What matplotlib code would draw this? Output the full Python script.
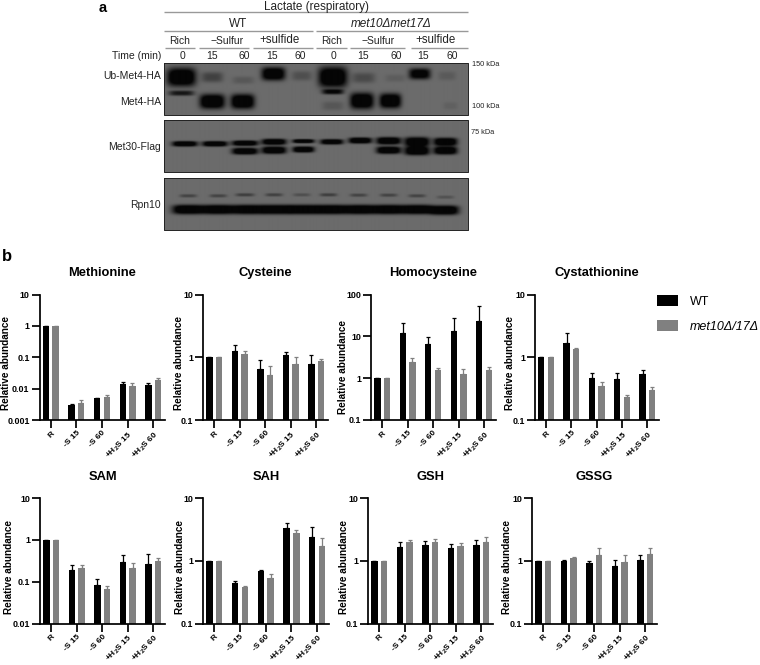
import numpy as np
import matplotlib
matplotlib.use("Agg")
import matplotlib.pyplot as plt
from matplotlib.patches import Patch

plt.rcParams['font.family'] = ['Liberation Sans', 'DejaVu Sans']
plt.rcParams['mathtext.fontset'] = 'custom'
plt.rcParams['mathtext.rm'] = 'Liberation Sans:bold'
plt.rcParams['mathtext.default'] = 'rm'

conditions = ['R', '-S 15', '-S 60', '+H$_2$S 15', '+H$_2$S 60']
metabolites = ['Methionine', 'Cysteine', 'Homocysteine', 'Cystathionine',
               'SAM', 'SAH', 'GSH', 'GSSG']
wt_values = {
    'Methionine': [1, 0.0030, 0.0049, 0.014, 0.013],
    'Cysteine': [1, 1.25, 0.65, 1.09, 0.77],
    'Homocysteine': [1, 11.9, 6.5, 13.7, 23.8],
    'Cystathionine': [1, 1.71, 0.47, 0.447, 0.537],
    'SAM': [1, 0.195, 0.083, 0.297, 0.261],
    'SAH': [1, 0.45, 0.70, 3.32, 2.44],
    'GSH': [1, 1.67, 1.76, 1.59, 1.82],
    'GSSG': [1, 1.0, 0.93, 0.83, 1.02],
}
wt_upper = {
    'Methionine': [1, 0.0033, 0.0051, 0.0158, 0.0154],
    'Cysteine': [1, 1.59, 0.896, 1.2, 1.1],
    'Homocysteine': [1, 21, 9.7, 27, 54],
    'Cystathionine': [1, 2.44, 0.56, 0.57, 0.63],
    'SAM': [1, 0.257, 0.116, 0.437, 0.454],
    'SAH': [1, 0.47, 0.72, 3.99, 3.45],
    'GSH': [1, 2.01, 2.06, 1.84, 2.14],
    'GSSG': [1, 1.05, 1.0, 1.02, 1.23],
}
mut_values = {
    'Methionine': [1, 0.0034, 0.0055, 0.0118, 0.0183],
    'Cysteine': [1, 1.13, 0.52, 0.77, 0.885],
    'Homocysteine': [1, 2.41, 1.58, 1.27, 1.61],
    'Cystathionine': [1, 1.36, 0.35, 0.234, 0.299],
    'SAM': [1, 0.218, 0.068, 0.218, 0.309],
    'SAH': [1, 0.385, 0.535, 2.8, 1.71],
    'GSH': [1, 1.96, 1.96, 1.71, 2.01],
    'GSSG': [1, 1.12, 1.23, 0.95, 1.28],
}
mut_upper = {
    'Methionine': [1, 0.0042, 0.0061, 0.0147, 0.0222],
    'Cysteine': [1, 1.25, 0.737, 1.02, 0.95],
    'Homocysteine': [1, 3.0, 1.73, 1.7, 1.8],
    'Cystathionine': [1, 1.41, 0.40, 0.248, 0.337],
    'SAM': [1, 0.25, 0.081, 0.28, 0.365],
    'SAH': [1, 0.40, 0.61, 3.08, 2.3],
    'GSH': [1, 2.14, 2.24, 1.89, 2.41],
    'GSSG': [1, 1.14, 1.63, 1.23, 1.59],
}
y_limits = {
    'Methionine': (0.001, 10), 'Cysteine': (0.1, 10), 'Homocysteine': (0.1, 100),
    'Cystathionine': (0.1, 10), 'SAM': (0.01, 10), 'SAH': (0.1, 10),
    'GSH': (0.1, 10), 'GSSG': (0.1, 10),
}

# Blot bands: (x, y, half width, half height, strength), in 1/3 px
bands_met4 = [
    (545, 232, 40, 25, 1.0), (637, 232, 30, 14, .30), (730, 241, 30, 10, .14),
    (820, 222, 33, 18, .95), (905, 228, 28, 13, .20), (998, 232, 40, 28, 1.0),
    (1090, 234, 32, 14, .24), (1185, 235, 28, 10, .10), (1258, 222, 30, 15, .85),
    (1340, 228, 25, 12, .12), (545, 280, 35, 7, .60), (637, 305, 35, 20, 1.0),
    (728, 305, 33, 20, 1.0), (998, 276, 30, 7, .70), (998, 318, 30, 12, .15),
    (1085, 303, 33, 22, 1.0), (1170, 303, 30, 20, 1.0), (1350, 318, 20, 10, .08),
]
bands_met30 = [
    (555, 432, 35, 8, 1.0), (645, 432, 35, 8, 1.0), (735, 430, 36, 8, 1.0),
    (735, 454, 36, 10, 1.0), (822, 426, 34, 9, 1.0), (822, 451, 34, 11, 1.0),
    (910, 424, 30, 6, 1.0), (910, 449, 30, 9, 1.0), (995, 426, 32, 8, .95),
    (1080, 422, 32, 9, 1.0), (1165, 423, 34, 11, 1.0), (1165, 451, 34, 11, 1.0),
    (1250, 426, 35, 14, 1.0), (1250, 453, 35, 13, 1.0), (1335, 426, 33, 12, 1.0),
    (1335, 452, 33, 12, 1.0),
]
bands_rpn10 = [
    (565, 587, 24, 5, .28), (655, 587, 24, 5, .28), (735, 584, 26, 5, .32),
    (822, 584, 24, 5, .30), (905, 584, 24, 5, .20), (985, 584, 24, 5, .32),
    (1075, 585, 24, 5, .28), (1165, 585, 24, 5, .28), (1250, 587, 24, 5, .28),
    (1335, 591, 24, 5, .18), (565, 628, 44, 14, 1.0), (655, 628, 44, 14, 1.0),
    (745, 628, 44, 14, 1.0), (830, 628, 42, 14, 1.0), (912, 628, 42, 14, 1.0),
    (995, 628, 42, 14, 1.0), (1080, 628, 42, 14, 1.0), (1165, 628, 42, 14, 1.0),
    (1250, 628, 42, 14, 1.0), (1332, 630, 40, 14, 1.0),
]
blot_panels = [(190, 346, bands_met4, 1.1), (361, 517, bands_met30, 1.0), (534, 690, bands_rpn10, 1.0)]
BLOT_X = (493, 1403)

fig = plt.figure(figsize=(7.6, 6.65), dpi=100)
W, H = 760, 665

# Overlay for panel a
ov = fig.add_axes([0, 0, 1, 1])
ov.set_xlim(0, W)
ov.set_ylim(H, 0)
ov.axis('off')


def draw_blot(top, bottom, bands, thick):
    xs = np.arange(BLOT_X[0], BLOT_X[1], 1.0)
    ys = np.arange(top, bottom, 1.0)
    X, Y = np.meshgrid(xs, ys)
    dark = np.zeros_like(X)
    for (cx, cy, hw, hh, s) in bands:
        dark += s * np.exp(-np.abs((X - cx) / (hw * 1.08)) ** 4 - np.abs((Y - cy) / (hh * thick)) ** 3)
    dark = np.clip(dark * 1.4, 0, 1)
    img = 0.42 * (1 - 0.95 * dark)
    ov.imshow(img, cmap='gray', vmin=0, vmax=1, aspect='auto', interpolation='bilinear',
              extent=(BLOT_X[0] / 3, BLOT_X[1] / 3, bottom / 3, top / 3))
    ov.plot([BLOT_X[0] / 3, BLOT_X[1] / 3, BLOT_X[1] / 3, BLOT_X[0] / 3, BLOT_X[0] / 3],
            [top / 3, top / 3, bottom / 3, bottom / 3, top / 3], color='#222222', lw=0.7)


for t, b, bd, th in blot_panels:
    draw_blot(t, b, bd, th)
ov.set_xlim(0, W)
ov.set_ylim(H, 0)


def T(x, y, s, size=7.5, ha='center', **kw):
    ov.text(x / 3, y / 3, s, fontsize=size, ha=ha, va='center', color='#222222', **kw)


def L(x0, x1, y, c='#999999', lw=1.0):
    ov.plot([x0 / 3, x1 / 3], [y / 3, y / 3], color=c, lw=lw, solid_capstyle='butt')


ov.text(308 / 3, 8, 'a', fontsize=10.5, fontweight='bold', ha='center', va='center', color='black')
ov.text(20 / 3, 770 / 3, 'b', fontsize=12, fontweight='bold', ha='center', va='center', color='black')
T(948, 20, 'Lactate (respiratory)', size=8.5)
L(493, 1403, 37)
T(715, 71, 'WT', size=8.5)
T(1175, 71, 'met10Δmet17Δ', size=8.5, style='italic')
L(493, 938, 92)
L(948, 1403, 92)
for x, y, s, sz in [(540, 124, 'Rich', 7.5), (682, 124, '−Sulfur', 7.5), (840, 120, '+sulfide', 8.3),
                    (995, 124, 'Rich', 7.5), (1135, 124, '−Sulfur', 7.5), (1305, 120, '+sulfide', 8.3)]:
    T(x, y, s, size=sz)
for x0, x1 in [(495, 585), (597, 747), (758, 938), (948, 1040), (1050, 1215), (1232, 1403)]:
    L(x0, x1, 143)
T(483, 168, 'Time (min)', ha='right')
for x, s in zip([546, 637, 732, 815, 902, 1001, 1090, 1188, 1268, 1357],
                ['0', '15', '60', '15', '60', '0', '15', '60', '15', '60']):
    T(x, 168, s)
for y, s in [(227, 'Ub-Met4-HA'), (307, 'Met4-HA'), (440, 'Met30-Flag'), (614, 'Rpn10')]:
    T(483, y, s, ha='right')
for x, y, s in [(1415, 195, '150 kDa'), (1415, 318, '100 kDa'), (1413, 399, '75 kDa')]:
    T(x, y, s, size=5.3, ha='left')

# Panel b: axes frames in px: left, right, bottom, top
frames = [
    (39.5, 165, 420, 294.5), (203, 328, 420, 294.5), (371, 495.7, 420, 294.5), (535, 659, 420, 294.5),
    (40, 165, 623.7, 498), (203, 329, 623.7, 498), (368, 493, 623.7, 498), (532, 657, 623.7, 498),
]
label_x = [5.8, 179, 343, 510, 9.5, 180, 344, 507]
label_y = [363, 363, 367, 363, 567, 567, 567, 567]
bar_w = 0.25
off = 0.19
BLACK, GREY = '#000000', '#808080'

for i, name in enumerate(metabolites):
    l, r, b, t = frames[i]
    ax = fig.add_axes([l / W, 1 - b / H, (r - l) / W, (b - t) / H])
    ax.patch.set_alpha(0)
    x = np.arange(len(conditions))
    lo, hi = y_limits[name]
    for vals, up, c, sgn in [(wt_values[name], wt_upper[name], BLACK, -1),
                             (mut_values[name], mut_upper[name], GREY, 1)]:
        vals = np.array(vals, float)
        up = np.array(up, float)
        ax.bar(x + sgn * off, vals - lo, bar_w, bottom=lo, color=c, linewidth=0)
        ax.errorbar(x + sgn * off, vals, yerr=[np.zeros_like(vals), up - vals], fmt='none',
                    ecolor=c, elinewidth=0.9, capsize=1.6, capthick=0.9)
    ax.set_yscale('log')
    ax.set_ylim(lo, hi)
    ax.set_xlim(-0.44, 4.46)
    ticks = [10.0 ** k for k in range(int(round(np.log10(lo))), int(round(np.log10(hi))) + 1)]
    ax.set_yticks(ticks)
    ax.set_yticklabels([('%g' % v) for v in ticks], fontsize=6.4, fontweight='bold')
    ax.minorticks_off()
    ax.set_xticks(x)
    ax.set_xticklabels(conditions, fontsize=6.0, fontweight='bold', rotation=45, ha='right',
                       rotation_mode='anchor')
    ax.tick_params(axis='y', width=1.25, length=5.7, pad=1.5, color='black')
    ax.tick_params(axis='x', width=1.25, length=5.5, pad=1.5, color='black')
    for s in ['top', 'right']:
        ax.spines[s].set_visible(False)
    for s in ['left', 'bottom']:
        ax.spines[s].set_linewidth(1.25)
    ax.set_ylabel('Relative abundance', fontsize=7.2, fontweight='bold', va='center')
    ax.yaxis.set_label_coords((label_x[i] - l) / (r - l), (b - label_y[i]) / (b - t))
    ax.set_title(name, fontsize=9.3, fontweight='bold', pad=0,
                 y=(b - (273 if i < 4 else 477)) / (b - t), va='center')

handles = [Patch(facecolor=BLACK, label='WT'), Patch(facecolor=GREY, label='met10Δ/17Δ')]
leg = fig.legend(handles=handles, loc='upper left', bbox_to_anchor=(657 / W, 1 - 295 / H),
                 frameon=False, fontsize=9, handlelength=1.68, handleheight=0.96,
                 labelspacing=0.98, handletextpad=0.96, borderpad=0, borderaxespad=0)
leg.get_texts()[1].set_style('italic')

fig.savefig('out.png', dpi=100)
